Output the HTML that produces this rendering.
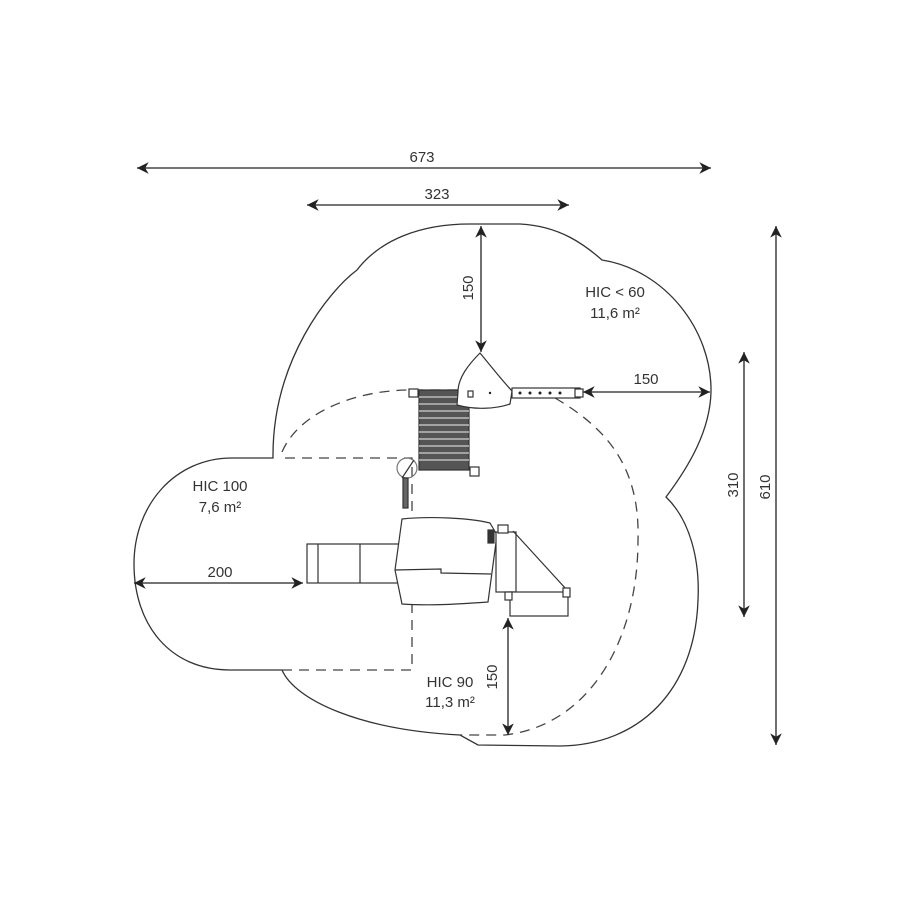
<!DOCTYPE html>
<html><head><meta charset="utf-8"><style>html,body{margin:0;padding:0;background:#fff}svg{display:block}text{font-family:"Liberation Sans",sans-serif;fill:#333;font-size:15px}</style></head><body>
<svg width="900" height="900" viewBox="0 0 900 900" xmlns="http://www.w3.org/2000/svg">
<defs><marker id="a" viewBox="0 0 10 10" refX="10" refY="5" markerWidth="9" markerHeight="9" orient="auto-start-reverse"><path d="M0,0 L10,5 L0,10 L3,5 Z" fill="#222"/></marker></defs>
<g fill="none" stroke="#333" stroke-width="1.3">
<!-- solid outline -->
<path d="M273,458 C272,360 330,290 357,270 C380,240 420,224 470,224 L520,224 C560,226 585,245 602,260 C665,270 712,330 711,392 C710,430 690,465 666,497 C690,520 700,560 698,600 C695,690 640,745 560,746 L478,745 L460,735 C360,730 295,700 282,670 L230,670 C170,670 134,625 134,564 C134,505 175,458 232,458 Z"/>
</g>
<g fill="none" stroke="#444" stroke-width="1.3" stroke-dasharray="10,7">
<path d="M282,452 C300,410 360,390 410,390 L470,390"/>
<path d="M555,398 C610,430 640,470 638,540 C638,640 590,725 505,735 L460,735"/>
<path d="M282,670 L412,670 L412,458 L280,458"/>
</g>
<!-- dimension lines -->
<g stroke="#222" stroke-width="1.3" marker-start="url(#a)" marker-end="url(#a)">
<line x1="137" y1="168" x2="711" y2="168"/>
<line x1="307" y1="205" x2="569" y2="205"/>
<line x1="776" y1="226" x2="776" y2="745"/>
<line x1="744" y1="352" x2="744" y2="617"/>
<line x1="481" y1="226" x2="481" y2="352"/>
<line x1="583" y1="392" x2="710" y2="392"/>
<line x1="134" y1="583" x2="303" y2="583"/>
<line x1="508" y1="618" x2="508" y2="735"/>
</g>
<text x="422" y="162" text-anchor="middle">673</text>
<text x="437" y="199" text-anchor="middle">323</text>
<text x="646" y="384" text-anchor="middle">150</text>
<text x="220" y="577" text-anchor="middle">200</text>
<text transform="translate(473,288) rotate(-90)" text-anchor="middle">150</text>
<text transform="translate(497,677) rotate(-90)" text-anchor="middle">150</text>
<text transform="translate(738,485) rotate(-90)" text-anchor="middle">310</text>
<text transform="translate(770,487) rotate(-90)" text-anchor="middle">610</text>
<text x="615" y="297" text-anchor="middle">HIC &lt; 60</text>
<text x="615" y="318" text-anchor="middle">11,6 m²</text>
<text x="220" y="491" text-anchor="middle">HIC 100</text>
<text x="220" y="512" text-anchor="middle">7,6 m²</text>
<text x="450" y="687" text-anchor="middle">HIC 90</text>
<text x="450" y="707" text-anchor="middle">11,3 m²</text>
<!-- equipment -->
<g stroke="#333" stroke-width="1.2" fill="#fff">
<rect x="409" y="389" width="9" height="8"/>
<rect x="470" y="467" width="9" height="9"/>
<rect x="419" y="390" width="50" height="80" fill="#555"/>
</g>
<g stroke="#bbb" stroke-width="1.5">
<line x1="419" y1="397" x2="469" y2="397"/><line x1="419" y1="404" x2="469" y2="404"/><line x1="419" y1="411" x2="469" y2="411"/><line x1="419" y1="418" x2="469" y2="418"/><line x1="419" y1="425" x2="469" y2="425"/><line x1="419" y1="432" x2="469" y2="432"/><line x1="419" y1="439" x2="469" y2="439"/><line x1="419" y1="446" x2="469" y2="446"/><line x1="419" y1="453" x2="469" y2="453"/><line x1="419" y1="460" x2="469" y2="460"/>
</g>
<g stroke="#333" stroke-width="1.2" fill="#fff">
<path d="M480,353 C468,365 458,378 458,392 L457,405 C475,410 495,409 510,404 L512,391 C500,378 490,365 480,353 Z"/>
<rect x="468" y="391" width="5" height="6" fill="none"/>
<rect x="512" y="388" width="68" height="10"/>
<rect x="575" y="389" width="8" height="8"/>
<circle cx="407" cy="468" r="10" fill="none" stroke="#777"/>
<line x1="402" y1="478" x2="414" y2="460"/>
<rect x="403" y="478" width="5" height="30" fill="#666"/>
<rect x="307" y="544" width="92" height="39"/>
<line x1="318" y1="544" x2="318" y2="583"/><line x1="360" y1="544" x2="360" y2="583"/>
<path d="M402,519 C430,516 470,518 490,523 L497,535 L488,602 C460,604 430,606 402,604 L395,570 Z"/>
<path d="M395,570 L441,569 L441,573 L491,574" fill="none"/>
<rect x="488" y="530" width="6" height="13" fill="#333"/>
<rect x="496" y="532" width="20" height="60"/>
<rect x="498" y="525" width="10" height="8"/>
<path d="M513,531 L566,589 L566,595" fill="none"/>
<rect x="510" y="592" width="58" height="24"/>
<rect x="505" y="592" width="7" height="8"/>
<rect x="563" y="588" width="7" height="9"/>
</g>
<g fill="#222"><circle cx="520" cy="393" r="1.5"/><circle cx="530" cy="393" r="1.5"/><circle cx="540" cy="393" r="1.5"/><circle cx="550" cy="393" r="1.5"/><circle cx="560" cy="393" r="1.5"/><circle cx="490" cy="393" r="1.2"/></g>
</svg>
</body></html>
